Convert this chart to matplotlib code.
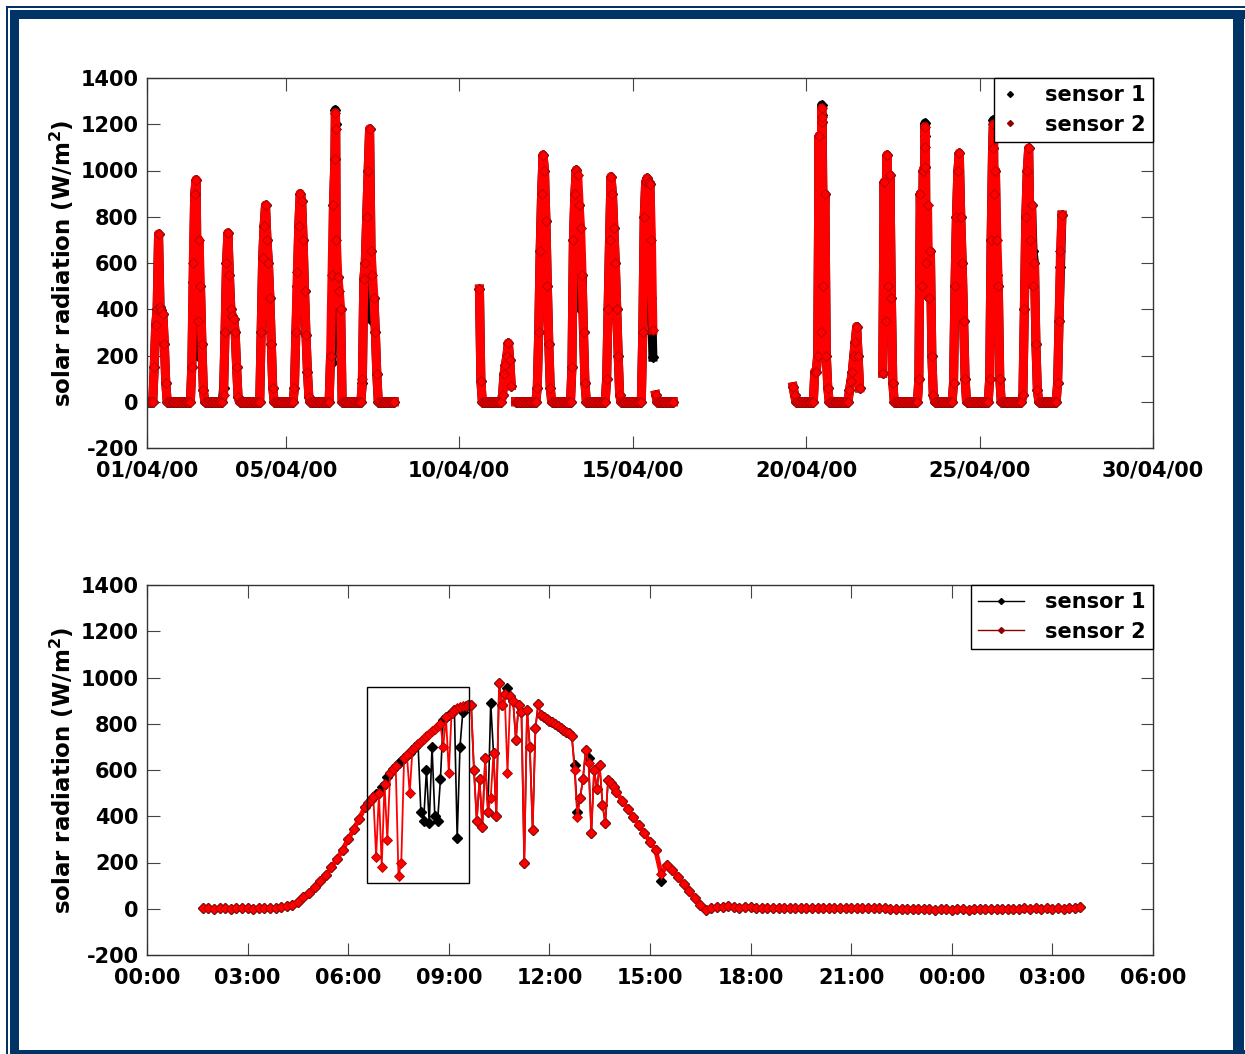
import numpy as np
import matplotlib
matplotlib.use("Agg")
import matplotlib.pyplot as plt
from matplotlib.lines import Line2D
from matplotlib.patches import Rectangle

# ---------------- top panel: hourly readings, April 2000 ----------------
# values for 04:00 ... 17:00 of each day (night readings are 0)
top_hours = list(range(4, 18))
apr01 = [0, 150, 330, 400, 725, 410, 395, 380, 250, 80, 0, 0, 0, 0]
apr02 = [0, 0, 0, 150, 600, 900, 960, 350, 700, 500, 250, 50, 0, 0]
apr03 = [0, 30, 300, 600, 730, 550, 400, 370, 360, 300, 150, 20, 0, 0]
apr04 = [0, 0, 0, 300, 620, 760, 850, 700, 600, 450, 250, 60, 0, 0]
apr05 = [0, 0, 60, 300, 560, 760, 900, 870, 700, 480, 290, 130, 20, 0]
apr06 = [0, 0, 0, 200, 550, 850, 1050, 700, 540, 480, 400, 0, 0, 0]
apr07 = [0, 100, 530, 600, 800, 1000, 1180, 650, 550, 450, 300, 120, 0, 0]
apr08 = [0] * 14
apr10 = [0, 0, 0, 0, 0, 0, 0, 0, 0, 0, 487, 90, 0, 0]
apr11 = [0, 0, 30, 120, 160, 200, 254, 180, 70, 40, 0, 0, 0, 0]
apr12 = [0, 0, 60, 300, 650, 900, 1067, 1000, 780, 500, 250, 60, 0, 0]
apr13 = [0, 0, 150, 700, 900, 1002, 980, 850, 750, 550, 300, 80, 0, 0]
apr14 = [0, 0, 100, 400, 700, 973, 900, 750, 600, 400, 200, 30, 0, 0]
apr15 = [0, 0, 0, 300, 800, 950, 967, 950, 940, 700, 310, 0, 30, 0]
apr16 = [0] * 14
apr19 = [0, 0, 0, 0, 0, 0, 0, 0, 0, 0, 0, 65, 30, 0]
apr20 = [0, 0, 130, 130, 200, 1150, 300, 1211, 500, 900, 200, 60, 0, 0]
apr21 = [0, 0, 50, 90, 130, 200, 260, 325, 200, 60, 0, 0, 0, 0]
apr22 = [0, 124, 950, 350, 1067, 500, 980, 450, 80, 0, 0, 0, 0, 0]
apr23 = [0, 0, 100, 900, 500, 1000, 1017, 600, 850, 450, 650, 200, 30, 0]
apr24 = [0, 0, 80, 500, 800, 1000, 1075, 800, 600, 350, 100, 0, 0, 0]
apr25 = [0, 0, 0, 100, 700, 1097, 900, 1000, 700, 500, 100, 0, 0, 0]
apr26 = [0, 0, 30, 400, 800, 1000, 1097, 700, 850, 500, 600, 250, 50, 0]
apr27 = [0, 0, 80, 350, 650, 807, 0, 0, 0, 0, 0, 0, 0, 0]

# periods without data (day of month, fractional)
top_gaps = [(8.15, 10.56), (11.53, 11.60), (15.61, 15.64),
            (16.17, 19.61), (21.56, 22.20), (27.40, 31.0)]

# single off-grid spikes
spike_day = [6.43, 6.44, 20.45, 20.46, 23.43, 23.44, 25.40]
spike_s1 = [1262, 1200, 1283, 1240, 1205, 1150, 1218]
spike_s2 = [1250, 1180, 1270, 1230, 1190, 1100, 1200]

# where sensor 1 reads differently from sensor 2 (day, hour, value)
s1_day = [2, 2, 3, 5, 6, 6, 6, 7, 7, 13, 13, 15, 15, 20, 23, 25, 26, 27]
s1_hour = [8, 12, 5, 8, 8, 11, 13, 5, 12, 10, 12, 13, 14, 12, 12, 12, 13, 8]
s1_val = [520, 195, 60, 500, 167, 450, 267, 81, 350, 600, 400, 450, 193,
          700, 500, 550, 650, 584]

top_ticks = [1, 5, 10, 15, 20, 25, 30]
top_labels = ['01/04/00', '05/04/00', '10/04/00', '15/04/00',
              '20/04/00', '25/04/00', '30/04/00']

# ---------------- bottom panel: one day, sampled readings ----------------
night1 = [2, 2, 1, 2, 2, 1, 2, 2, 2, 1, 2, 2, 3, 4, 8, 12]          # 01:40-04:10, 10 min
rise = [16, 30, 50, 70, 95, 118, 145, 180, 215, 255, 300, 345, 390, 440]  # 04:20-06:30
cloudy = [458, 470, 482, 225, 500,                                  # 06:35-06:55, 5 min
          182, 540, 297, 585, 603, 618, 140, 200, 652, 665, 500, 688,
          698, 712, 725, 735, 745, 756, 768, 778, 790, 800, 700, 828,
          587, 848, 858, 866, 872, 876, 878, 880, 882, 600, 380, 560,
          355, 650, 420, 480, 673, 400, 975, 880, 930, 586, 920, 900,
          730, 880, 850, 197, 860, 700, 341, 780, 885, 838, 830, 822,
          814, 806, 798, 790, 782, 774, 766, 758, 748, 600, 398, 480,
          560, 687, 630, 327, 600, 520, 620, 450, 370, 557, 543, 525,
          505]                                                     # ... 14:00
decline = [468, 432, 397, 361, 326, 290, 255, 150, 190, 168, 137, 107,
           76, 46, 15, -5]                                          # 14:10-16:40, 10 min
night2 = [3,
          6, 8, 10, 6, 5, 8,
          6, 5, 5, 4, 4, 5,
          4, 4, 4, 4, 3, 3,
          3, 4, 5, 3, 3, 3,
          3, 2, 2, 3, 2, 2,
          3, 0, 1, -1, 0, -2,
          -1, -3, -2, -4, -3, -2,
          -5, -3, -2, -4, -1, -2,
          0, -3, -1, 0, -2, 1,
          -1, 2, 0, 3, 0, 2,
          -1, 3, 1, 4, 2, 6]                                        # 16:50-27:50, 10 min

# sensor 1 readings that differ (time "HH:MM", value)
b1_time = ['06:50', '07:00', '07:10', '07:30', '07:35', '07:50', '08:10', '08:15',
           '08:20', '08:25', '08:30', '08:35', '08:40', '08:45', '08:50', '09:00',
           '09:15', '09:20', '09:25', '10:15', '10:45', '12:45', '12:50', '13:10',
           '15:20']
b1_val = [495, 528, 568, 630, 640, 675, 420, 380, 600, 370, 700, 400, 380, 560,
          818, 838, 305, 700, 850, 888, 953, 620, 420, 650, 120]

bot_ticks = [0, 3, 6, 9, 12, 15, 18, 21, 24, 27, 30]
bot_labels = ['00:00', '03:00', '06:00', '09:00', '12:00', '15:00', '18:00',
              '21:00', '00:00', '03:00', '06:00']
box_hours = (6.56, 9.60)
box_vals = (111, 960)


def top_series(use_s1):
    rows = {1: apr01, 2: apr02, 3: apr03, 4: apr04, 5: apr05, 6: apr06, 7: apr07,
            8: apr08, 10: apr10, 11: apr11, 12: apr12, 13: apr13, 14: apr14,
            15: apr15, 16: apr16, 19: apr19, 20: apr20, 21: apr21, 22: apr22,
            23: apr23, 24: apr24, 25: apr25, 26: apr26, 27: apr27}
    t, v = [], []
    for d in range(1, 28):
        for h in range(24):
            t.append(d + h / 24)
            row = rows.get(d)
            if row is None:
                v.append(np.nan)
            elif h in top_hours:
                v.append(row[top_hours.index(h)])
            else:
                v.append(0)
    t = np.array(t)
    v = np.array(v, dtype=float)
    if use_s1:
        for d, h, val in zip(s1_day, s1_hour, s1_val):
            v[(d - 1) * 24 + h] = val
    for a, b in top_gaps:
        v[(t > a) & (t < b)] = np.nan
    t = np.concatenate([t, spike_day])
    v = np.concatenate([v, spike_s1 if use_s1 else spike_s2])
    order = np.argsort(t, kind='stable')
    return t[order], v[order]


def grid(h0, m0, h1, m1, step):
    return list(np.arange(h0 * 60 + m0, h1 * 60 + m1 + 1, step) / 60.0)


bot_t = np.array(grid(1, 40, 4, 10, 10) + grid(4, 20, 6, 30, 10) +
                 grid(6, 35, 14, 0, 5) + grid(14, 10, 16, 40, 10) +
                 grid(16, 50, 27, 50, 10))
bot_s2 = np.array(night1 + rise + cloudy + decline + night2, dtype=float)
bot_s1 = bot_s2.copy()
for tt, val in zip(b1_time, b1_val):
    hh, mm = tt.split(':')
    idx = np.argmin(np.abs(bot_t - (int(hh) + int(mm) / 60)))
    bot_s1[idx] = val

# smooth (non cloudy) stretch gets a heavier trace, like the dense logger data
i0 = len(night1) + len(rise)
i1 = i0 + len(cloudy)
smooth_s2 = bot_s2.copy()
smooth_s2[i0 + 1:i1 - 1] = np.nan

plt.rcParams['font.family'] = ['DejaVu Sans']
plt.rcParams['font.weight'] = 'bold'
plt.rcParams['axes.labelweight'] = 'bold'
plt.rcParams['font.size'] = 15
plt.rcParams['axes.unicode_minus'] = False

W, H = 1245, 1054
fig = plt.figure(figsize=(W / 100, H / 100), dpi=100)

# dark blue frame
navy = '#003366'
for x, y, w, h in [(6, 6, 2, H), (6, 6, W, 2), (10, 10, 9, H), (10, 10, W, 9),
                   (1233, 10, 11, H), (10, 1050, W, 10)]:
    fig.add_artist(Rectangle((x / W, 1 - (y + h) / H), w / W, h / H,
                             transform=fig.transFigure, color=navy, lw=0))

ax1 = fig.add_axes([147 / W, 1 - 448 / H, 1006 / W, 370 / H])
ax2 = fig.add_axes([147 / W, 1 - 955 / H, 1006 / W, 370 / H])

t1, v1 = top_series(True)
t2, v2 = top_series(False)
ax1.plot(t1, v1, color='black', lw=6.5, marker='D', ms=5, mec='black')
ax1.plot(t2, v2, color='red', lw=6.5, marker='D', ms=5, mfc='red', mec='#b00000', mew=0.6)
ax1.set_xlim(1, 30)
ax1.set_xticks(top_ticks)
ax1.set_xticklabels(top_labels)

ax2.plot(bot_t, bot_s1, color='black', lw=1.2, marker='D', ms=5.5, mec='black')
ax2.plot(bot_t, smooth_s2, color='red', lw=3.5)
ax2.plot(bot_t, bot_s2, color='red', lw=1.3, marker='D', ms=5.5, mfc='red', mec='#b00000', mew=0.6)
ax2.add_patch(Rectangle((box_hours[0], box_vals[0]), box_hours[1] - box_hours[0],
                        box_vals[1] - box_vals[0], fill=False, ec='black', lw=1, zorder=5))
ax2.set_xlim(0, 30)
ax2.set_xticks(bot_ticks)
ax2.set_xticklabels(bot_labels)

for ax in (ax1, ax2):
    ax.set_ylim(-200, 1400)
    ax.set_yticks(range(-200, 1401, 200))
    ax.set_ylabel(r'solar radiation (W/m$^{\mathbf{2}}$)', fontsize=16.5, labelpad=3)
    ax.tick_params(direction='in', length=9, width=0.8, color='#444444',
                   top=True, right=True)
    ax.tick_params(axis='y', pad=6)
    ax.tick_params(axis='x', pad=9)
    for s in ax.spines.values():
        s.set_linewidth(1)
        s.set_color('#333333')

h_top = [Line2D([], [], ls='none', marker='D', ms=3, color='black'),
         Line2D([], [], ls='none', marker='D', ms=3, color='#8b0000')]
ax1.legend(h_top, ['sensor 1', 'sensor 2'], loc='upper right', borderaxespad=0,
           fancybox=False, edgecolor='black', framealpha=1, handlelength=0.8,
           handletextpad=1.3, borderpad=0.35, labelspacing=0.45)
h_bot = [Line2D([], [], color='black', lw=1, marker='D', ms=3),
         Line2D([], [], color='#8b0000', lw=1, marker='D', ms=3)]
ax2.legend(h_bot, ['sensor 1', 'sensor 2'], loc='upper right', borderaxespad=0,
           fancybox=False, edgecolor='black', framealpha=1, handlelength=2.2,
           handletextpad=1.0, borderpad=0.35, labelspacing=0.45)

fig.savefig('out.png', dpi=100)
